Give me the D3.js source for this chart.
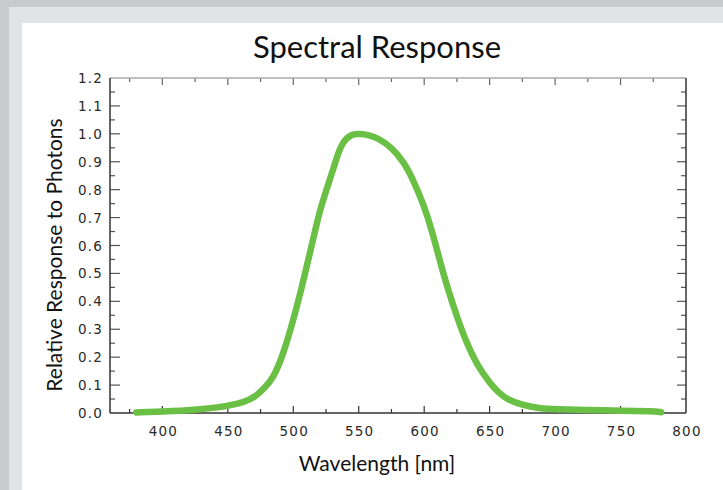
<!DOCTYPE html>
<html>
<head>
<meta charset="utf-8">
<script src="https://cdn.jsdelivr.net/npm/d3@7"></script>
<style>
  body { margin: 0; background: #c9cacc; }
  svg { display: block; }
</style>
</head>
<body>
<svg id="chart" width="723" height="490"></svg>
<script>
// -------- spectral response --------
// data
const wavelengths = [380, 400, 425, 444, 450, 463, 470, 478, 485, 492, 500, 506, 513, 520, 525, 530, 534, 538, 544, 550, 558, 565, 575, 584, 591, 600, 606, 612, 618, 625, 632, 640, 650, 657, 663, 675, 688, 700, 725, 750, 775, 781];
const response = [0.002, 0.005, 0.011, 0.021, 0.026, 0.04, 0.055, 0.088, 0.128, 0.205, 0.333, 0.44, 0.578, 0.722, 0.795, 0.865, 0.928, 0.972, 0.998, 1.0, 0.996, 0.984, 0.952, 0.902, 0.842, 0.742, 0.652, 0.545, 0.445, 0.345, 0.255, 0.175, 0.108, 0.072, 0.05, 0.028, 0.017, 0.013, 0.011, 0.008, 0.006, 0.003];
const xTickLabels = [400, 450, 500, 550, 600, 650, 700, 750, 800];
const yTickLabels = [0, 0.1, 0.2, 0.3, 0.4, 0.5, 0.6, 0.7, 0.8, 0.9, 1.0, 1.1, 1.2];

const svg = d3.select("#chart"),
  width = +svg.attr("width"),
  height = +svg.attr("height");

const plot = { left: 110, right: 686, top: 78, bottom: 413 };

// page frame: grey bands then white panel
svg.append("rect").attr("x", 9).attr("y", 7).attr("width", width - 9).attr("height", height - 7).attr("fill", "#e2e3e5");
svg.append("rect").attr("x", 22).attr("y", 23).attr("width", width - 22).attr("height", height - 23).attr("fill", "#ffffff");

const x = d3.scaleLinear().domain([360, 800]).range([plot.left, plot.right]);
const y = d3.scaleLinear().domain([0, 1.2]).range([plot.bottom, plot.top]);

// minor + major tick values
const xTicks = d3.range(375, 800, 25);
const yTicks = d3.range(0.05, 1.2, 0.05);

const axisColor = "#333";

// bottom axis (ticks inward)
const gBottom = svg.append("g").attr("transform", `translate(0,${plot.bottom})`);
gBottom.selectAll("line").data(xTicks).enter().append("line")
  .attr("x1", d => x(d)).attr("x2", d => x(d))
  .attr("y1", 0).attr("y2", (d, i) => (i % 2 === 1 ? -7 : -4))
  .attr("stroke", axisColor).attr("stroke-width", 1.2);

// top axis (ticks inward, lighter frame)
const gTop = svg.append("g").attr("transform", `translate(0,${plot.top})`);
gTop.selectAll("line").data(xTicks).enter().append("line")
  .attr("x1", d => x(d)).attr("x2", d => x(d))
  .attr("y1", 0).attr("y2", (d, i) => (i % 2 === 1 ? 7 : 4))
  .attr("stroke", "#666").attr("stroke-width", 1.2);

// left axis ticks
svg.append("g").selectAll("line").data(yTicks).enter().append("line")
  .attr("x1", plot.left).attr("x2", (d, i) => plot.left + (i % 2 === 1 ? 10 : 5))
  .attr("y1", d => y(d)).attr("y2", d => y(d))
  .attr("stroke", "#555").attr("stroke-width", 1.2);

// right axis ticks
svg.append("g").selectAll("line").data(yTicks).enter().append("line")
  .attr("x1", plot.right).attr("x2", (d, i) => plot.right - (i % 2 === 1 ? 9 : 5))
  .attr("y1", d => y(d)).attr("y2", d => y(d))
  .attr("stroke", "#555").attr("stroke-width", 1.2);

// frame lines
svg.append("line").attr("x1", plot.left).attr("x2", plot.right).attr("y1", plot.top).attr("y2", plot.top)
  .attr("stroke", "#aaa").attr("stroke-width", 1.5);
svg.append("line").attr("x1", plot.left).attr("x2", plot.right).attr("y1", plot.bottom).attr("y2", plot.bottom)
  .attr("stroke", axisColor).attr("stroke-width", 1.5);
svg.append("line").attr("x1", plot.left).attr("x2", plot.left).attr("y1", plot.top).attr("y2", plot.bottom)
  .attr("stroke", axisColor).attr("stroke-width", 1.5);
svg.append("line").attr("x1", plot.right).attr("x2", plot.right).attr("y1", plot.top).attr("y2", plot.bottom)
  .attr("stroke", axisColor).attr("stroke-width", 1.5);

// tick labels
const tickFont = "'DejaVu Sans', Verdana, sans-serif";
svg.append("g").selectAll("text").data(xTickLabels).enter().append("text")
  .attr("x", d => x(d) + 1).attr("y", 436)
  .attr("text-anchor", "middle")
  .style("font-family", tickFont).style("font-size", "13.5px").style("letter-spacing", "1.2px")
  .attr("fill", "#2a2a2a")
  .text(d => d);

svg.append("g").selectAll("text").data(yTickLabels).enter().append("text")
  .attr("x", 103).attr("y", d => y(d) + 5)
  .attr("text-anchor", "end")
  .style("font-family", tickFont).style("font-size", "13.5px").style("letter-spacing", "1.2px")
  .attr("fill", "#2a2a2a")
  .text(d => d3.format(".1f")(d));

// the curve
const line = d3.line()
  .x((d, i) => x(wavelengths[i]))
  .y(d => y(d))
  .curve(d3.curveBasis);

svg.append("path")
  .datum(response)
  .attr("d", line)
  .attr("fill", "none")
  .attr("stroke", "#6abf45")
  .attr("stroke-width", 6.5)
  .attr("stroke-linecap", "round")
  .attr("stroke-linejoin", "round");

// titles
const labelFont = "Lato, 'Open Sans', sans-serif";
svg.append("text")
  .attr("x", 377).attr("y", 58)
  .attr("text-anchor", "middle")
  .style("font-family", labelFont).style("font-size", "31px")
  .attr("fill", "#111")
  .text("Spectral Response");

svg.append("text")
  .attr("x", 377).attr("y", 471)
  .attr("text-anchor", "middle")
  .style("font-family", labelFont).style("font-size", "21px")
  .attr("fill", "#111")
  .text("Wavelength [nm]");

svg.append("text")
  .attr("transform", "translate(62,255) rotate(-90)")
  .attr("text-anchor", "middle")
  .style("font-family", labelFont).style("font-size", "21px")
  .attr("fill", "#111")
  .text("Relative Response to Photons");
</script>
</body>
</html>
